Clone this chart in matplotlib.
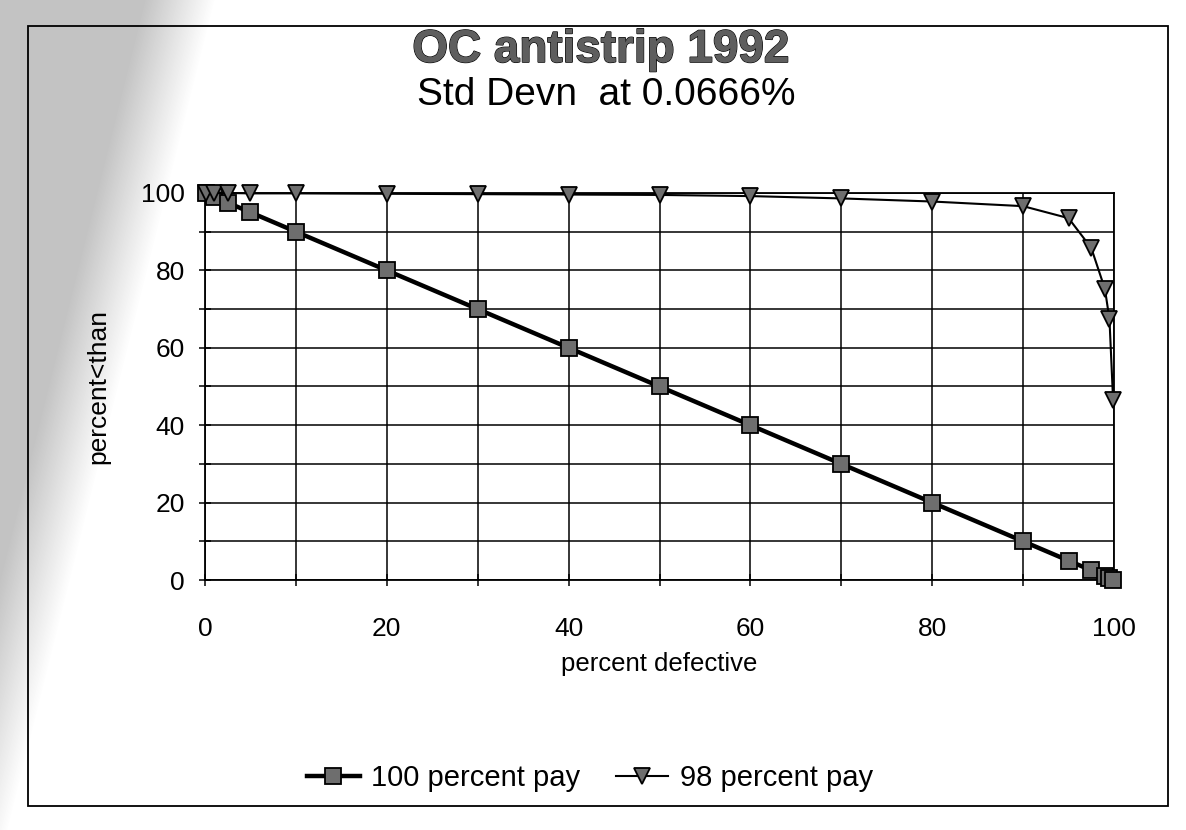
import numpy as np
import matplotlib
matplotlib.use("Agg")
import matplotlib.pyplot as plt
import matplotlib.patheffects as pe
from matplotlib.patches import Rectangle

plt.rcParams['font.family'] = ['Liberation Sans', 'DejaVu Sans']

# Operating characteristic data
pct_defective = [0.1, 1, 2.5, 5, 10, 20, 30, 40, 50, 60, 70, 80, 90, 95, 97.5, 99, 99.5, 99.9]
pay_100 = [99.9, 99, 97.5, 95, 90, 80, 70, 60, 50, 40, 30, 20, 10, 5, 2.5, 1, 0.5, 0.1]
pay_98 = [100, 100, 100, 99.9, 99.9, 99.8, 99.7, 99.6, 99.5, 99.2, 98.6, 97.8, 96.6,
          93.5, 85.8, 75.2, 67.4, 46.5]

x_ticks = [0, 20, 40, 60, 80, 100]
y_ticks = [0, 20, 40, 60, 80, 100]

W, H = 1186, 830
fig = plt.figure(figsize=(W / 100, H / 100), dpi=100)
fig.patch.set_facecolor('white')

# grey copier shadow along the left edge of the page
bg = fig.add_axes([0, 0, 1, 1], zorder=-5)
bg.set_axis_off()
yy, xx = np.mgrid[0:H, 0:W]
edge = 215 * (1 - yy / 860.0)
alpha = np.clip((edge - xx) / 70.0, 0, 1) * 0.42
rgba = np.zeros((H, W, 4))
rgba[..., :3] = 0.45
rgba[..., 3] = alpha
bg.imshow(rgba, extent=[0, 1, 0, 1], aspect='auto', interpolation='bilinear')
bg.set_xlim(0, 1)
bg.set_ylim(0, 1)

# chart area border
fig.add_artist(Rectangle((28 / W, 1 - 806 / H), (1168 - 28) / W, (806 - 26) / H,
                         transform=fig.transFigure, fill=False,
                         edgecolor='black', linewidth=1.3))

ax = fig.add_axes([205 / W, 1 - 580 / H, (1114 - 205) / W, (580 - 193) / H])
ax.set_xlim(0, 100)
ax.set_ylim(0, 100)

ax.set_xticks(x_ticks)
ax.set_yticks(y_ticks)
ax.set_xticks(np.arange(0, 101, 10), minor=True)
ax.set_yticks(np.arange(0, 101, 10), minor=True)
ax.grid(True, which='both', color='black', linewidth=1.1)
ax.set_axisbelow(True)
for s in ax.spines.values():
    s.set_linewidth(1.3)
    s.set_color('black')

ax.tick_params(axis='both', which='both', direction='inout', length=9, width=1.1,
               labelsize=19, colors='black')
ax.tick_params(axis='x', which='major', pad=22)
ax.tick_params(axis='y', which='major', pad=10)

l1, = ax.plot(pct_defective, pay_100, color='black', linewidth=3.2,
              marker='s', markersize=11, markerfacecolor='#6e6e6e',
              markeredgecolor='black', markeredgewidth=1.3, clip_on=False, zorder=4)
l2, = ax.plot(pct_defective, pay_98, color='black', linewidth=1.5,
              marker='v', markersize=11, markerfacecolor='#6e6e6e',
              markeredgecolor='black', markeredgewidth=1.3, clip_on=False, zorder=5)

ax.set_xlabel('percent defective', fontsize=18.5, labelpad=8)
ax.set_ylabel('percent<than', fontsize=19, labelpad=22)

fig.text(601 / W, 1 - 62 / H, 'OC antistrip 1992', ha='center', va='baseline',
         fontsize=33, fontweight='bold', color='#5e5e5e',
         path_effects=[pe.withStroke(linewidth=1.1, foreground='black'), pe.Normal()])
fig.text(606 / W, 1 - 105 / H, 'Std Devn  at 0.0666%', ha='center', va='baseline',
         fontsize=28, color='black')

fig.legend([l1, l2], ['100 percent pay', '98 percent pay'],
           loc='center', bbox_to_anchor=(590 / W, 1 - 778 / H), ncol=2,
           frameon=False, fontsize=21, handlelength=1.8, columnspacing=1.2,
           handletextpad=0.4)

fig.savefig('out.png', dpi=100)
